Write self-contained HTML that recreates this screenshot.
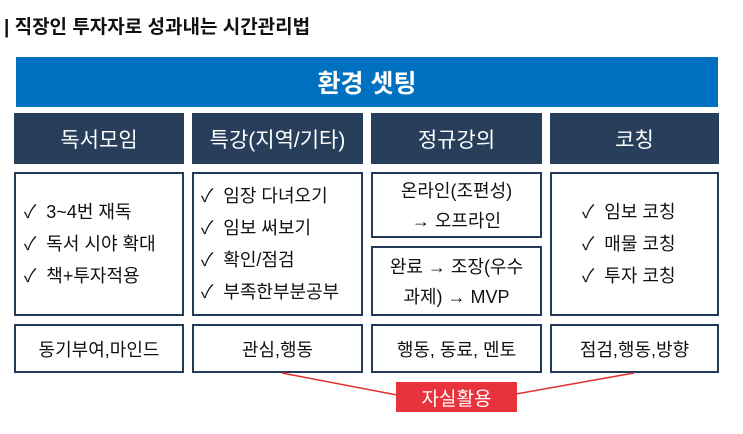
<!DOCTYPE html>
<html><head><meta charset="utf-8"><style>
body{margin:0;width:743px;height:434px;background:#fff;position:relative;overflow:hidden;font-family:"Liberation Sans","Noto Sans CJK KR",sans-serif;}
.a{position:absolute;box-sizing:border-box;}
.t{left:4px;top:12px;font-size:19px;font-weight:bold;color:#111;}
.bar{left:16px;top:57px;width:702px;height:50px;background:#0070c0;color:#fff;font-size:25px;font-weight:bold;display:flex;align-items:center;justify-content:center;}
.h{top:113px;height:51px;background:#283f5c;color:#fff;font-size:21px;display:flex;align-items:center;justify-content:center;}
.b{border:2px solid #233a5a;background:#fff;color:#111;font-size:18px;display:flex;flex-direction:column;justify-content:center;}
.c{align-items:center;text-align:center;}
.c div{margin:2px 0;}
.l div{margin:3px 0;height:26px;line-height:26px;}
</style></head><body>
<div class="a t">| 직장인 투자자로 성과내는 시간관리법</div>
<div class="a bar">환경 셋팅</div>
<div class="a h" style="left:14px;width:170px">독서모임</div>
<div class="a h" style="left:192px;width:171px">특강(지역/기타)</div>
<div class="a h" style="left:371px;width:171px">정규강의</div>
<div class="a h" style="left:550px;width:169px">코칭</div>

<div class="a b l" style="left:14px;top:172px;width:170px;height:144px;padding-left:8px"><div>✓&nbsp; 3~4번 재독</div><div>✓&nbsp; 독서 시야 확대</div><div>✓&nbsp; 책+투자적용</div></div>
<div class="a b l" style="left:192px;top:172px;width:171px;height:144px;padding-left:7px;white-space:nowrap"><div>✓&nbsp; 임장 다녀오기</div><div>✓&nbsp; 임보 써보기</div><div>✓&nbsp; 확인/점검</div><div>✓&nbsp; 부족한부분공부</div></div>
<div class="a b c" style="left:371px;top:172px;width:171px;height:66px"><div>온라인(조편성)</div><div>→ 오프라인</div></div>
<div class="a b c" style="left:371px;top:246px;width:171px;height:70px"><div>완료 → 조장(우수</div><div>과제) → MVP</div></div>
<div class="a b l" style="left:550px;top:172px;width:169px;height:144px;padding-left:30px"><div>✓&nbsp; 임보 코칭</div><div>✓&nbsp; 매물 코칭</div><div>✓&nbsp; 투자 코칭</div></div>

<div class="a b c" style="left:14px;top:324px;width:170px;height:49px">동기부여,마인드</div>
<div class="a b c" style="left:192px;top:324px;width:171px;height:49px">관심,행동</div>
<div class="a b c" style="left:371px;top:324px;width:171px;height:49px">행동, 동료, 멘토</div>
<div class="a b c" style="left:550px;top:324px;width:169px;height:49px">점검,행동,방향</div>

<svg class="a" style="left:0;top:0" width="743" height="434"><line x1="282" y1="373" x2="397" y2="395" stroke="#e03030" stroke-width="1.5"/><line x1="634" y1="373" x2="516" y2="394" stroke="#e03030" stroke-width="1.5"/></svg>
<div class="a" style="left:396px;top:382px;width:121px;height:30px;background:#e8323c;color:#fff;font-size:19px;display:flex;align-items:center;justify-content:center;">자실활용</div>
</body></html>
